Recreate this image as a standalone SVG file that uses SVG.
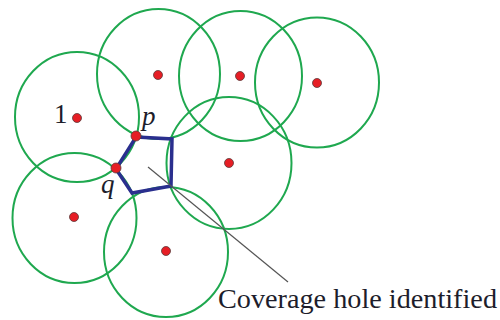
<svg xmlns="http://www.w3.org/2000/svg" width="500" height="320" viewBox="0 0 500 320">
  <style>
    .range { fill: none; stroke: #1fa84f; stroke-width: 2; }
    .dot { fill: #e61e25; stroke: #5a3a3a; stroke-width: 0.8; }
    .lbl { font-family: "Liberation Serif", "Times New Roman", serif; font-size: 27px; fill: #1d1d2b; }
    .it { font-style: italic; }
    .hole { fill: none; stroke: #2a2f8e; stroke-width: 3.5; stroke-linejoin: miter; }
    .pointer { stroke: #555555; stroke-width: 1.2; }
  </style>
  <rect width="500" height="320" fill="#ffffff"/>
  <g id="sensor-1">
    <ellipse class="range" cx="77" cy="117" rx="62" ry="65"/>
    <circle class="dot" cx="77" cy="118" r="4.5"/>
  </g>
  <g id="sensor-2">
    <ellipse class="range" cx="158.5" cy="74" rx="61.5" ry="65"/>
    <circle class="dot" cx="158" cy="75" r="4.5"/>
  </g>
  <g id="sensor-3">
    <ellipse class="range" cx="240.5" cy="76" rx="61.5" ry="65"/>
    <circle class="dot" cx="240" cy="76" r="4.5"/>
  </g>
  <g id="sensor-4">
    <ellipse class="range" cx="317" cy="82.5" rx="62" ry="65"/>
    <circle class="dot" cx="317" cy="83" r="4.5"/>
  </g>
  <g id="sensor-5">
    <ellipse class="range" cx="229" cy="163" rx="62.5" ry="66"/>
    <circle class="dot" cx="229" cy="163" r="4.5"/>
  </g>
  <g id="sensor-6">
    <ellipse class="range" cx="74.5" cy="218" rx="62" ry="65"/>
    <circle class="dot" cx="74" cy="217" r="4.5"/>
  </g>
  <g id="sensor-7">
    <ellipse class="range" cx="166" cy="252" rx="62" ry="65"/>
    <circle class="dot" cx="166" cy="251" r="4.5"/>
  </g>
  <g id="connectors">
    <polygon class="hole" points="136,137 172,139 171,186 132,193 116,169"/>
    <line class="pointer" x1="148" y1="167" x2="288" y2="282"/>
  </g>
  <g id="node-p">
    <circle class="dot" cx="136" cy="136" r="5"/>
    <text class="lbl it" x="142" y="125">p</text>
  </g>
  <g id="node-q">
    <circle class="dot" cx="116" cy="168" r="5"/>
    <text class="lbl it" x="101" y="193">q</text>
  </g>
  <text class="lbl" x="54" y="123">1</text>
  <text class="lbl" x="218" y="308" textLength="279" lengthAdjust="spacingAndGlyphs">Coverage hole identified</text>
</svg>
